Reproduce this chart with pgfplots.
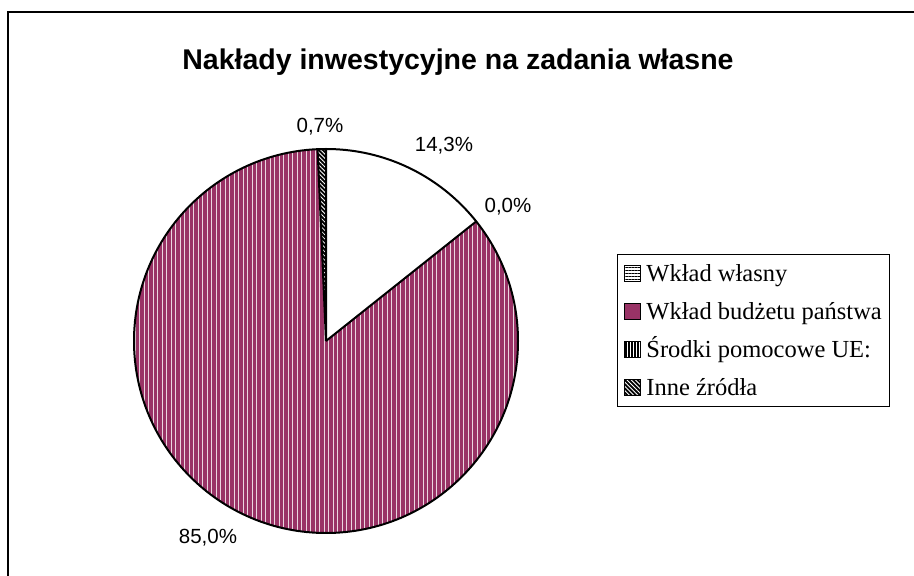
\documentclass[border=0pt]{standalone}
\usepackage{fontspec}
\setmainfont{Liberation Serif}
\newfontfamily\arialfont{Liberation Sans}
\usepackage{pgfplots}
\usepackage{pgfplotstable}
\pgfplotsset{compat=1.18}
\usetikzlibrary{patterns.meta}
\definecolor{plum}{HTML}{993366}

% shares in percent, in drawing order (clockwise from 12 o'clock)
\pgfplotstableread{
share
14.3
85.0
0.0
0.7
}\piedata

\begin{document}
\begin{tikzpicture}
\pgfplotstablegetelem{0}{share}\of\piedata \let\vA\pgfplotsretval
\pgfplotstablegetelem{1}{share}\of\piedata \let\vB\pgfplotsretval
\pgfplotstablegetelem{2}{share}\of\piedata \let\vC\pgfplotsretval
\pgfplotstablegetelem{3}{share}\of\piedata \let\vD\pgfplotsretval
\pgfmathsetmacro\aA{90-3.6*\vA}
\pgfmathsetmacro\aB{\aA-3.6*\vB}
\pgfmathsetmacro\aC{\aB-3.6*\vC}
\pgfmathsetmacro\aD{\aC-3.6*\vD}
\def\cx{326}\def\cy{235}\def\R{192}
\pgfkeys{/pgf/number format/.cd, fixed, fixed zerofill, precision=1, use comma, assume math mode=true}
\begin{axis}[
    scale only axis,
    width=914pt, height=576pt,
    xmin=0, xmax=914, ymin=0, ymax=576,
    hide axis,
    clip=false,
    legend cell align=left,
    legend style={
        at={(axis description cs:0.675,0.559)}, anchor=north west,
        draw=black, line width=1pt,
        font=\fontsize{24.5}{28}\selectfont,
        inner xsep=7pt, inner ysep=5pt,
        row sep=10pt,
        nodes={inner sep=1pt, text height=21pt, text depth=5pt},
        /tikz/every odd column/.append style={column sep=4pt},
    },
]
% frame (only top and left edge are in view)
\draw[line width=2pt] (axis cs:8,0) -- (axis cs:8,564) -- (axis cs:914,564);

% slices
\fill[white] (axis cs:\cx,\cy) -- ++(90:\R pt)
    arc[start angle=90, end angle=\aA, radius=\R pt] -- cycle;
\path[preaction={fill=plum}, pattern={Lines[angle=90,distance=4.5pt,line width=1pt]},
      pattern color=white!80!plum]
    (axis cs:\cx,\cy) -- ++(\aA:\R pt)
    arc[start angle=\aA, end angle=\aB, radius=\R pt] -- cycle;
\path[preaction={fill=black}, pattern={Lines[angle=90,distance=3pt,line width=0.8pt]},
      pattern color=white]
    (axis cs:\cx,\cy) -- ++(\aB:\R pt)
    arc[start angle=\aB, end angle=\aC, radius=\R pt] -- cycle;
\path[preaction={fill=black}, pattern={Lines[angle=-45,distance=3pt,line width=0.8pt]},
      pattern color=white]
    (axis cs:\cx,\cy) -- ++(\aC:\R pt)
    arc[start angle=\aC, end angle=\aD, radius=\R pt] -- cycle;
% outlines
\draw[line width=2pt] (axis cs:\cx,\cy) circle[radius=\R pt];
\draw[line width=2pt, line join=round]
    (axis cs:\cx,\cy) -- ++(90:\R pt)
    (axis cs:\cx,\cy) -- ++(\aA:\R pt)
    (axis cs:\cx,\cy) -- ++(\aB:\R pt)
    (axis cs:\cx,\cy) -- ++(\aC:\R pt);

% title
\node[font=\arialfont\bfseries\fontsize{28.5}{30}\selectfont, anchor=base]
    at (axis cs:458,506) {Nakłady inwestycyjne na zadania własne};

% data labels
\begin{scope}[every node/.style={font=\arialfont\fontsize{20.5}{22}\selectfont}]
\node at (axis cs:444,430) {\pgfmathprintnumber{\vA}\%};
\node at (axis cs:208,38)  {\pgfmathprintnumber{\vB}\%};
\node at (axis cs:508,369) {\pgfmathprintnumber{\vC}\%};
\node at (axis cs:320,449) {\pgfmathprintnumber{\vD}\%};
\end{scope}

% legend
\addlegendimage{legend image code/.code={
    \draw[line width=1pt, preaction={fill=white},
          pattern={Lines[angle=0,distance=3pt,line width=0.9pt]}]
          (0pt,-8pt) rectangle (16pt,8pt);}}
\addlegendentry{Wkład własny}
\addlegendimage{legend image code/.code={
    \draw[line width=1pt, fill=plum] (0pt,-8pt) rectangle (16pt,8pt);}}
\addlegendentry{Wkład budżetu państwa}
\addlegendimage{legend image code/.code={
    \draw[line width=1pt, preaction={fill=black},
          pattern={Lines[angle=90,distance=3pt,line width=0.9pt]}, pattern color=white]
          (0pt,-8pt) rectangle (16pt,8pt);}}
\addlegendentry{Środki pomocowe UE:}
\addlegendimage{legend image code/.code={
    \draw[line width=1pt, preaction={fill=black},
          pattern={Lines[angle=-45,distance=3pt,line width=0.9pt]}, pattern color=white]
          (0pt,-8pt) rectangle (16pt,8pt);}}
\addlegendentry{Inne źródła}
\end{axis}
\pgfresetboundingbox
\useasboundingbox (0,0) rectangle (914pt,576pt);
\end{tikzpicture}
\end{document}
